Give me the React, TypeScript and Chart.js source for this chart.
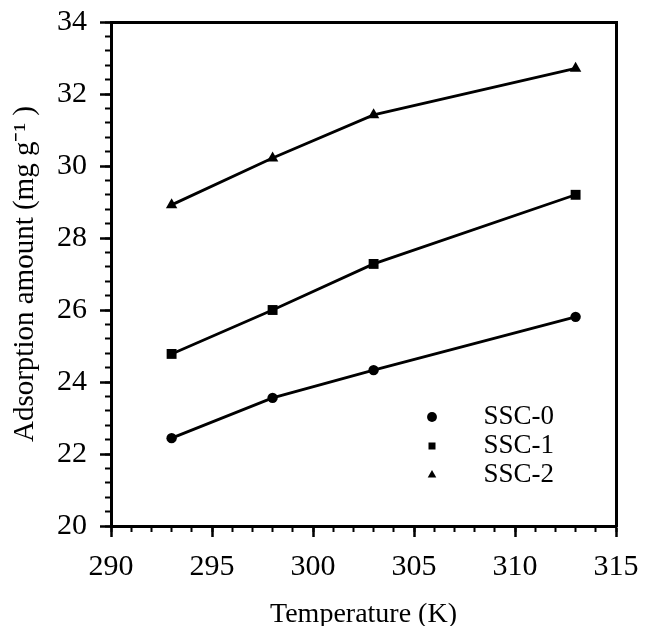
import React, { useEffect, useRef } from "react";
import { Chart, registerables } from "chart.js";

Chart.register(...registerables);

// ---- data ----
const temperatures = [293, 298, 303, 313];
const ssc0 = [22.44, 23.56, 24.33, 25.81];
const ssc1 = [24.78, 26.0, 27.28, 29.2];
const ssc2 = [28.92, 30.22, 31.42, 32.71];
const seriesNames = ["SSC-0", "SSC-1", "SSC-2"];
const seriesStyles = ["circle", "rect", "triangle"];
const xRange = [290, 315];
const yRange = [20, 34];
const xTitle = "Temperature (K)";
const yTitle = "Adsorption amount (mg g\u207B\u00B9 )";

const FONT = "'Liberation Serif', 'Times New Roman', serif";
const BLACK = "#000000";
const pointRadii = [5.2, 7, 6.6];

// legend placement (inside the plot, lower right)
const LEG_FONT = 27;
const LEG_PAD = 2;
const LEG_MARKER_X = 432;
const LEG_TEXT_RIGHT = 554;
const LEG_BOTTOM = 490.5;

const legendPlacer = {
  id: "legendPlacer",
  afterLayout(chart: any) {
    const lg = chart.legend;
    if (!lg) return;
    const boxW = LEG_FONT;
    const left = LEG_MARKER_X - boxW / 2 - LEG_PAD;
    lg.left = left;
    lg.right = LEG_TEXT_RIGHT;
    lg.width = LEG_TEXT_RIGHT - left;
    lg.top = chart.chartArea.top;
    lg.bottom = LEG_BOTTOM;
    lg.height = LEG_BOTTOM - chart.chartArea.top;
  },
};

const noPad = (s: any) => {
  s.paddingTop = 0;
  s.paddingBottom = 0;
  s.paddingLeft = 0;
  s.paddingRight = 0;
};

export default function App() {
  const ref = useRef<HTMLCanvasElement | null>(null);

  useEffect(() => {
    document.body.style.margin = "0";
    const canvas = ref.current;
    if (!canvas) return;
    const series = [ssc0, ssc1, ssc2];
    const chart = new Chart(canvas, {
      type: "line",
      data: {
        datasets: series.map((vals, i) => ({
          label: seriesNames[i],
          data: temperatures.map((t, j) => ({ x: t, y: vals[j] })),
          borderColor: BLACK,
          backgroundColor: BLACK,
          borderWidth: 2.8,
          pointStyle: seriesStyles[i] as any,
          pointRadius: pointRadii[i],
          pointHoverRadius: pointRadii[i],
          pointBackgroundColor: BLACK,
          pointBorderColor: BLACK,
          pointBorderWidth: 0,
          fill: false,
          tension: 0,
          xAxisID: "x",
          yAxisID: "y",
        })),
      },
      options: {
        animation: false,
        responsive: false,
        maintainAspectRatio: false,
        layout: { padding: 0 },
        plugins: {
          legend: {
            position: "chartArea" as any,
            align: "end",
            labels: {
              usePointStyle: true,
              boxWidth: LEG_FONT,
              boxHeight: 7,
              padding: LEG_PAD,
              textAlign: "right",
              color: BLACK,
              font: { family: FONT, size: LEG_FONT },
            },
          },
          tooltip: { enabled: false },
        },
        scales: {
          x: {
            type: "linear",
            position: "bottom",
            weight: 1,
            min: xRange[0],
            max: xRange[1],
            ticks: {
              stepSize: 5,
              autoSkip: false,
              maxRotation: 0,
              color: BLACK,
              padding: 12,
              font: { family: FONT, size: 30 },
            },
            grid: {
              drawOnChartArea: false,
              tickLength: 11,
              tickWidth: 2.5,
              tickColor: BLACK,
            },
            border: { display: true, color: BLACK, width: 3 },
            title: {
              display: true,
              text: xTitle,
              color: BLACK,
              font: { family: FONT, size: 28, lineHeight: 1 },
              padding: { top: 0, bottom: -3 },
            },
            afterFit: (s: any) => {
              s.height = 100;
              noPad(s);
            },
          },
          xMinor: {
            type: "linear",
            position: "bottom",
            weight: 0,
            min: xRange[0],
            max: xRange[1],
            ticks: { display: false, stepSize: 1, maxTicksLimit: 100, autoSkip: false },
            grid: {
              drawOnChartArea: false,
              tickLength: 6,
              tickWidth: 2,
              tickColor: BLACK,
            },
            border: { display: false },
            afterFit: (s: any) => {
              s.height = 0;
              noPad(s);
            },
          },
          xTop: {
            type: "linear",
            position: "top",
            min: xRange[0],
            max: xRange[1],
            ticks: { display: false },
            grid: { display: false },
            border: { display: true, color: BLACK, width: 3 },
            afterFit: (s: any) => {
              s.height = 22;
              noPad(s);
            },
          },
          y: {
            type: "linear",
            position: "left",
            weight: 1,
            min: yRange[0],
            max: yRange[1],
            ticks: {
              stepSize: 2,
              autoSkip: false,
              color: BLACK,
              padding: 13,
              font: { family: FONT, size: 30 },
            },
            grid: {
              drawOnChartArea: false,
              tickLength: 11,
              tickWidth: 2.5,
              tickColor: BLACK,
            },
            border: { display: true, color: BLACK, width: 3 },
            title: {
              display: true,
              text: yTitle,
              color: BLACK,
              font: { family: FONT, size: 29, lineHeight: 1 },
              padding: { top: 11, bottom: 0 },
            },
            afterFit: (s: any) => {
              s.width = 111;
              noPad(s);
            },
          },
          yMinor: {
            type: "linear",
            position: "left",
            weight: 0,
            min: yRange[0],
            max: yRange[1],
            ticks: { display: false, stepSize: 0.4, maxTicksLimit: 100, autoSkip: false },
            grid: {
              drawOnChartArea: false,
              tickLength: 6,
              tickWidth: 2,
              tickColor: BLACK,
            },
            border: { display: false },
            afterFit: (s: any) => {
              s.width = 0;
              noPad(s);
            },
          },
          yRight: {
            type: "linear",
            position: "right",
            min: yRange[0],
            max: yRange[1],
            ticks: { display: false },
            grid: { display: false },
            border: { display: true, color: BLACK, width: 3 },
            afterFit: (s: any) => {
              s.width = 35;
              noPad(s);
            },
          },
        },
      } as any,
      plugins: [legendPlacer],
    });
    return () => chart.destroy();
  }, []);

  return (
    <div style={{ width: 651, height: 626 }}>
      <canvas ref={ref} width={651} height={626} style={{ display: "block" }} />
    </div>
  );
}
